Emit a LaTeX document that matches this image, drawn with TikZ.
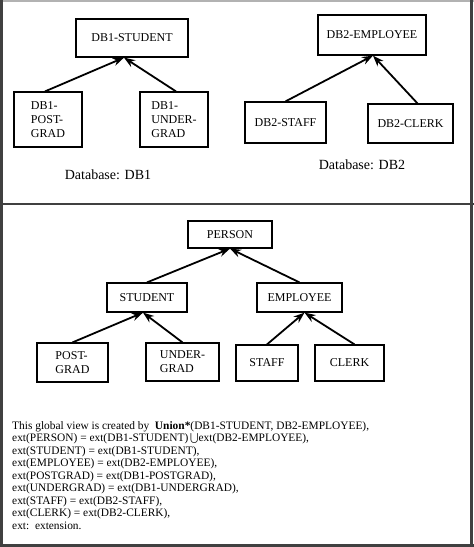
\documentclass[tikz,border=0pt]{standalone}
\usepackage{fontspec}
\setmainfont{Liberation Serif}
\usetikzlibrary{arrows.meta}
\tikzset{
  bx/.style={draw=black, line width=1.2pt, inner sep=0pt, align=left,
    font=\fontsize{12}{14}\selectfont},
  arr/.style={line width=1.8pt, -{Stealth[length=11pt,width=8pt]}},
  dblabel/.style={font=\fontsize{14}{16}\selectfont, inner sep=0pt},
  frameline/.style={draw=black!75, line width=2.5pt},
}
\begin{document}
\begin{tikzpicture}[x=1pt,y=-1pt]
\useasboundingbox (0,0) rectangle (474,547);
% frame
\draw[draw=black!30, line width=2pt] (0,1) -- (474,1);
\draw[frameline] (1.5,0) -- (1.5,547);
\draw[frameline] (471.5,0) -- (471.5,547);
\draw[frameline] (0,545.5) -- (474,545.5);
\draw[frameline] (1.5,204) -- (474,204);
% DB1
\node[bx, minimum width=112pt, minimum height=38pt] (dbst) at (132,38) {DB1-STUDENT};
\node[bx, minimum width=68pt, minimum height=55pt] (dbpg) at (48,119.5) {DB1-\\POST-\\GRAD};
\node[bx, minimum width=68pt, minimum height=55pt] (dbug) at (174,119.5) {DB1-\\UNDER-\\GRAD};
\draw[arr] ([xshift=-3pt]dbpg.north) -- ([xshift=-8pt]dbst.south);
\draw[arr] ([xshift=2pt]dbug.north) -- ([xshift=-8pt]dbst.south);
\node[dblabel] (lab1) at (108,175) {Database: DB1};
% DB2
\node[bx, minimum width=108pt, minimum height=40pt] (dbem) at (372,35) {DB2-EMPLOYEE};
\node[bx, minimum width=81pt, minimum height=41pt] (dbsf) at (285.5,122.5) {DB2-STAFF};
\node[bx, minimum width=85pt, minimum height=39pt] (dbcl) at (410.5,123.5) {DB2-CLERK};
\draw[arr] (dbsf.north) -- ([xshift=1pt]dbem.south);
\draw[arr] ([xshift=7pt]dbcl.north) -- ([xshift=1pt]dbem.south);
\node[dblabel] (lab2) at (362,165) {Database: DB2};
% global view
\node[bx, minimum width=84pt, minimum height=27pt] (person) at (230,234.5) {PERSON};
\node[bx, minimum width=80pt, minimum height=29pt] (student) at (147,297.5) {STUDENT};
\node[bx, minimum width=85pt, minimum height=29pt] (employee) at (299.5,297.5) {EMPLOYEE};
\node[bx, minimum width=71pt, minimum height=39pt] (postgrad) at (72.5,362.5) {POST-\\GRAD};
\node[bx, minimum width=73pt, minimum height=38pt] (undergrad) at (182.5,362) {UNDER-\\GRAD};
\node[bx, minimum width=62pt, minimum height=36pt] (staff) at (267,363) {STAFF};
\node[bx, minimum width=69pt, minimum height=36pt] (clerk) at (349.5,363) {CLERK};
\draw[arr] (student.north) -- (person.south);
\draw[arr] (employee.north) -- (person.south);
\draw[arr] (postgrad.north) -- ([xshift=-4pt]student.south);
\draw[arr] (undergrad.north) -- ([xshift=-4pt]student.south);
\draw[arr] (staff.north) -- ([xshift=5pt]employee.south);
\draw[arr] ([xshift=5pt]clerk.north) -- ([xshift=5pt]employee.south);
% text
\node[anchor=north west, inner sep=0pt, align=left,
  font=\fontsize{11.4}{12.55}\selectfont] (txt) at (12,421) {%
This global view is created by\ \ \textbf{Union*}(DB1-STUDENT, DB2-EMPLOYEE),\\
ext(PERSON) = ext(DB1-STUDENT)\,$\bigcup$ext(DB2-EMPLOYEE),\\
ext(STUDENT) = ext(DB1-STUDENT),\\
ext(EMPLOYEE) = ext(DB2-EMPLOYEE),\\
ext(POSTGRAD) = ext(DB1-POSTGRAD),\\
ext(UNDERGRAD) = ext(DB1-UNDERGRAD),\\
ext(STAFF) = ext(DB2-STAFF),\\
ext(CLERK) = ext(DB2-CLERK),\\
ext:\ \ extension.};
\end{tikzpicture}
\end{document}
